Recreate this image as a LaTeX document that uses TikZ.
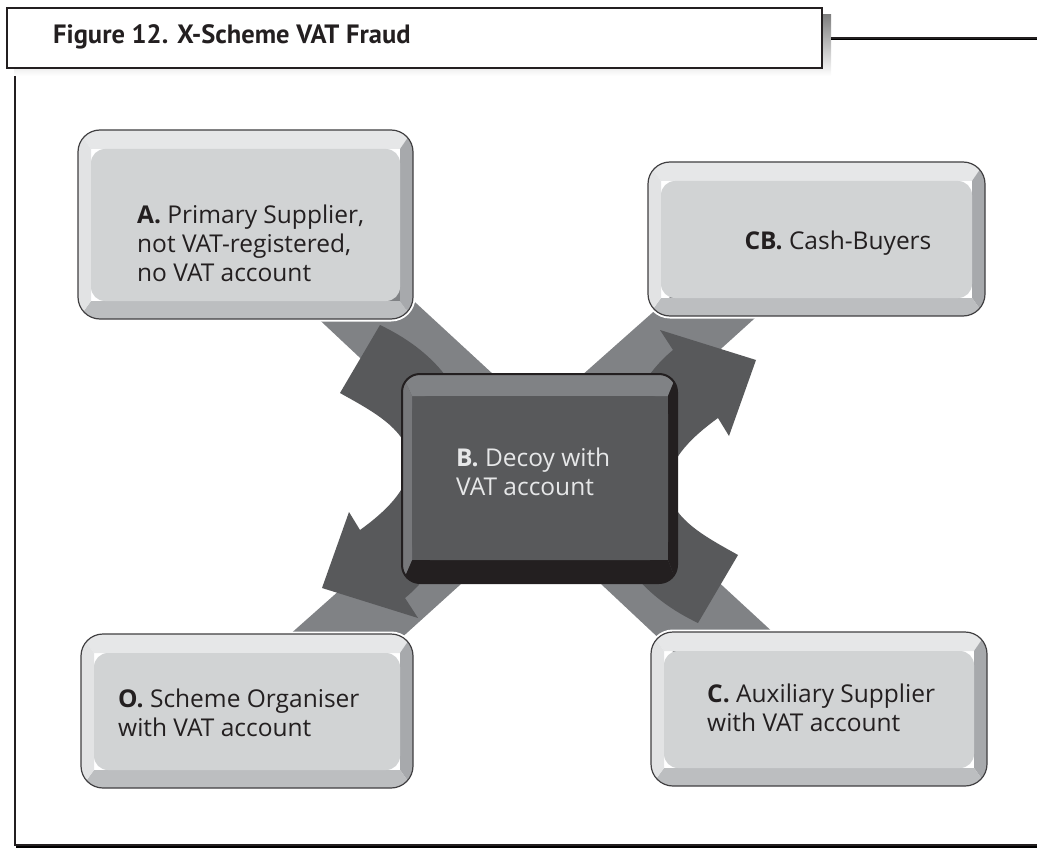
\documentclass[tikz,border=0pt]{standalone}
\usepackage{fontspec}
\setmainfont{Open Sans}
\newfontfamily\titlefont{PT Sans}
\usetikzlibrary{calc}
\definecolor{ink}{HTML}{231F20}
\definecolor{gtop}{HTML}{E6E7E8}
\definecolor{gleft}{HTML}{E2E3E4}
\definecolor{gright}{HTML}{A7A9AC}
\definecolor{gbot}{HTML}{BCBEC0}
\definecolor{gface}{HTML}{D1D3D4}
\definecolor{gline}{HTML}{414042}
\definecolor{band}{HTML}{808285}
\definecolor{darkarr}{HTML}{58595B}
\definecolor{btop}{HTML}{808285}
\definecolor{bleft}{HTML}{77787B}
\definecolor{bface}{HTML}{58595B}
\definecolor{shade}{HTML}{BCBEC0}
\definecolor{btext}{HTML}{E6E7E8}
\newcommand{\gbox}[4]{%
  \draw[white,line width=5pt,rounded corners=22pt] (#1,#2) rectangle (#3,#4);
  \begin{scope}
    \clip[rounded corners=22pt] (#1,#2) rectangle (#3,#4);
    \fill[gtop] (#1,#2) -- (#3,#2) -- ({#3-13},{#2+19}) -- ({#1+13},{#2+19}) -- cycle;
    \fill[gright] (#3,#2) -- (#3,#4) -- ({#3-13},{#4-18}) -- ({#3-13},{#2+19}) -- cycle;
    \fill[gbot] (#3,#4) -- (#1,#4) -- ({#1+13},{#4-18}) -- ({#3-13},{#4-18}) -- cycle;
    \fill[gleft] (#1,#4) -- (#1,#2) -- ({#1+13},{#2+19}) -- ({#1+13},{#4-18}) -- cycle;
  \end{scope}
  \fill[gface,rounded corners=14pt] ({#1+13},{#2+19}) rectangle ({#3-13},{#4-18});
  \draw[gline,line width=1.2pt,rounded corners=22pt] (#1,#2) rectangle (#3,#4);
}
\newcommand{\dbox}[4]{%
  \begin{scope}
    \clip[rounded corners=18pt] (#1,#2) rectangle (#3,#4);
    \fill[btop] (#1,#2) -- (#3,#2) -- ({#3-9},{#2+22}) -- ({#1+10},{#2+22}) -- cycle;
    \fill[ink] (#3,#2) -- (#3,#4) -- ({#3-9},{#4-23}) -- ({#3-9},{#2+22}) -- cycle;
    \fill[ink] (#3,#4) -- (#1,#4) -- ({#1+10},{#4-23}) -- ({#3-9},{#4-23}) -- cycle;
    \fill[bleft] (#1,#4) -- (#1,#2) -- ({#1+10},{#2+22}) -- ({#1+10},{#4-23}) -- cycle;
  \end{scope}
  \fill[bface,rounded corners=18pt] ({#1+10},{#2+22}) rectangle ({#3-9},{#4-23});
  \draw[ink,line width=2pt,rounded corners=18pt] (#1,#2) rectangle (#3,#4);
}
\newcommand{\curvearrow}[1]{%
  \fill[darkarr,#1] (380,325) .. controls (405,337) and (428,353) .. (445,375)
    .. controls (480,430) and (470,545) .. (405,598) -- (418,618) -- (322,588)
    -- (349,512) -- (360,530) .. controls (385,512) and (408,490) .. (410,465)
    .. controls (411,430) and (370,410) .. (340,393) -- cycle;
}
\tikzset{
  lbl/.style={anchor=west,align=left,inner sep=0pt,text=ink,
    font=\fontsize{24.5}{29}\selectfont},
  blbl/.style={lbl,text=btext},
}
\begin{document}
\begin{tikzpicture}[x=1pt,y=-1pt]
\useasboundingbox (0,0) rectangle (1037,848);
% frame
\fill[shade] (14,15) rectangle (831,76);
\filldraw[fill=white,draw=ink,line width=1.5pt] (7,8) rectangle (822,68);
\node[anchor=west,inner sep=0pt,text=ink,font=\titlefont\bfseries\fontsize{26.5}{30}\selectfont] (title) at (53,37) {Figure 12. X-Scheme VAT Fraud};
\draw[shade,line width=1.2pt] (831,39.5) -- (1037,39.5);
\draw[ink,line width=1.5pt] (831,38) -- (1037,38);
\draw[shade,line width=1.5pt] (16,847) -- (1037,847);
\draw[ink,line width=1.3pt] (15,76) -- (15,845) -- (1037,845);
% straight bands
\fill[band] (277,280) -- (391,280) -- (803,660) -- (682,660) -- cycle;
\fill[band] (678,290) -- (786,290) -- (377,660) -- (261,660) -- cycle;
% curved arrows
\curvearrow{}
\curvearrow{rotate around={180:(539,474)}}
% boxes
\gbox{78}{130}{413}{319}
\gbox{648}{162}{985}{316}
\gbox{81}{634}{413}{788}
\gbox{651}{632}{987}{786}
\dbox{402}{374}{677}{583}
% labels
\node[lbl] (A) at (137,243) {\textbf{A.} Primary Supplier,\\not VAT-registered,\\no VAT account};
\node[lbl,anchor=center] (CB) at (838,243) {\textbf{CB.} Cash-Buyers};
\node[blbl] (B) at (456,472) {\textbf{B.} Decoy with\\VAT account};
\node[lbl] (O) at (118,713) {\textbf{O.} Scheme Organiser\\with VAT account};
\node[lbl] (C) at (707,708) {\textbf{C.} Auxiliary Supplier\\with VAT account};
\end{tikzpicture}
\end{document}
